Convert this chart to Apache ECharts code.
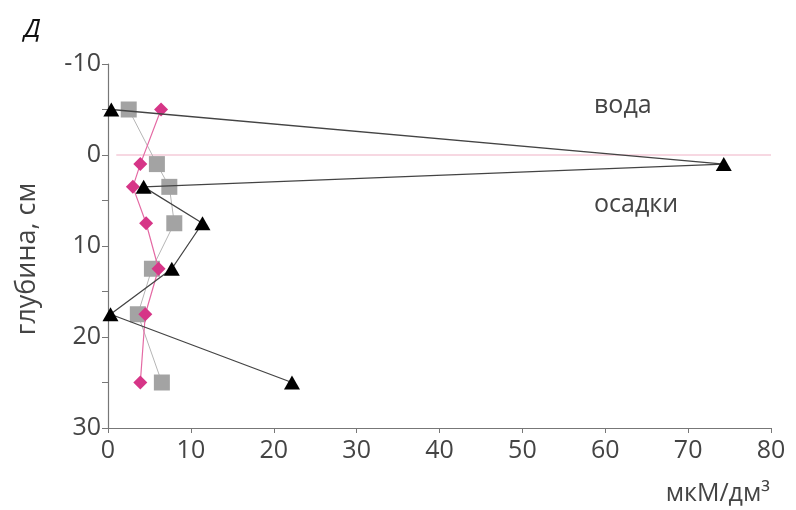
<!DOCTYPE html>
<html><head><meta charset="utf-8">
<script src="https://cdn.jsdelivr.net/npm/echarts@6/dist/echarts.min.js"></script>
<style>html,body{margin:0;padding:0;background:#fff}#c{width:796px;height:510px}</style>
</head><body><div id="c"></div>
<script>
const depths = [-5, 1, 3.5, 7.5, 12.5, 17.5, 25];
const triangleVals = [0.4, 74.3, 4.3, 11.4, 7.7, 0.3, 22.2];
const squareVals = [2.5, 5.9, 7.4, 8.0, 5.3, 3.6, 6.5];
const diamondVals = [6.4, 3.9, 3.0, 4.6, 6.1, 4.5, 3.9];
const interfaceLine = [[1, 0], [80, 0]];
const xTicks = [0, 10, 20, 30, 40, 50, 60, 70, 80];
const yTicks = [-10, 0, 10, 20, 30];
const pairs = vals => vals.map((v, i) => [v, depths[i]]);
const font = 'Open Sans, sans-serif';
const txt = '#444';
const chart = echarts.init(document.getElementById('c'));
chart.setOption({
  animation: false,
  title: { text: 'Д', left: 19, top: 12, textStyle: { fontStyle: 'italic', fontWeight: 'normal', fontSize: 26, color: '#111', fontFamily: font } },
  grid: { left: 108, right: 25, top: 64, bottom: 82 },
  xAxis: {
    type: 'value', min: 0, max: 80, interval: 10,
    axisLine: { onZero: false, lineStyle: { color: '#777', width: 1.2 } },
    axisTick: { show: true, inside: false, length: 5, lineStyle: { color: '#777' } },
    axisLabel: { fontSize: 25, color: txt, fontFamily: font, margin: 10,
      formatter: v => xTicks.includes(v) ? String(v) : '' },
    splitLine: { show: false }
  },
  yAxis: {
    type: 'value', min: -10, max: 30, interval: 5, inverse: true,
    axisLine: { show: true, onZero: false, lineStyle: { color: '#777', width: 1.2 } },
    axisTick: { show: true, inside: false, length: 6, lineStyle: { color: '#777' } },
    axisLabel: { fontSize: 25, color: txt, fontFamily: font, margin: 7, padding: [4, 0, 0, 0],
      formatter: v => yTicks.includes(v) ? String(v) : '' },
    splitLine: { show: false }
  },
  graphic: [
    { type: 'text', x: 27, y: 259, rotation: Math.PI / 2,
      style: { text: 'глубина, см', fontSize: 27, fill: txt, fontFamily: font, align: 'center', verticalAlign: 'middle' } },
    { type: 'text', right: 26, top: 481, style: { text: 'мкМ/дм³', fontSize: 25, fill: txt, fontFamily: font } },
    { type: 'text', left: 594, top: 93, style: { text: 'вода', fontSize: 25, fill: txt, fontFamily: font } },
    { type: 'text', left: 594, top: 192, style: { text: 'осадки', fontSize: 25, fill: txt, fontFamily: font } }
  ],
  series: [
    { type: 'line', data: interfaceLine, symbol: 'none', lineStyle: { color: '#f4cbd8', width: 1.5 }, z: 1 },
    { type: 'line', data: pairs(squareVals), symbol: 'rect', symbolSize: 16,
      itemStyle: { color: '#a3a3a3' }, lineStyle: { color: '#b5b5b5', width: 1 }, z: 2 },
    { type: 'line', data: pairs(diamondVals), symbol: 'diamond', symbolSize: 14,
      itemStyle: { color: '#d63587' }, lineStyle: { color: '#e46aa4', width: 1.2 }, z: 3 },
    { type: 'line', data: pairs(triangleVals), symbol: 'triangle', symbolSize: [16, 14],
      itemStyle: { color: '#000' }, lineStyle: { color: '#444', width: 1.3 }, z: 4 }
  ]
});
</script></body></html>
